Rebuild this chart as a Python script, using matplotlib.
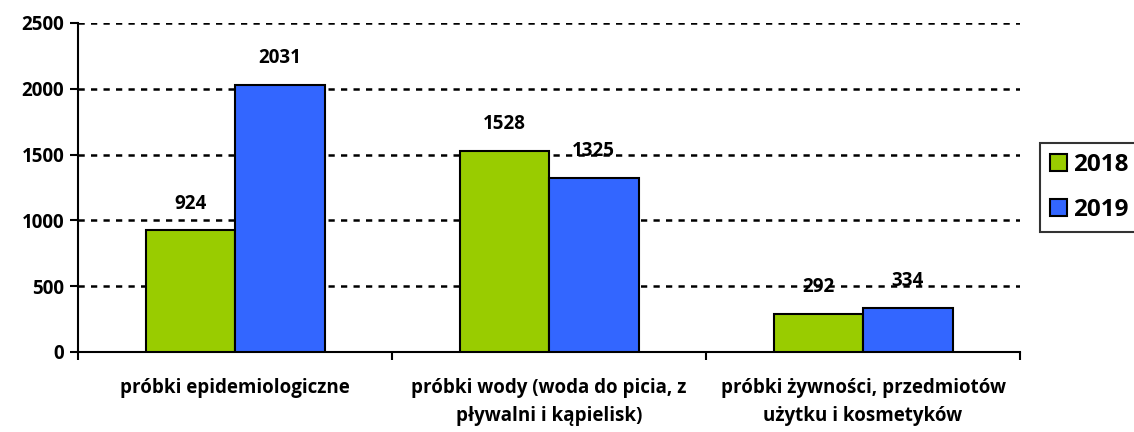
import numpy as np
import matplotlib.pyplot as plt
from matplotlib.ticker import FixedLocator

# data
categories = ['próbki epidemiologiczne',
              'próbki wody (woda do picia, z\npływalni i kąpielisk)',
              'próbki żywności, przedmiotów\nużytku i kosmetyków']
years = ['2018', '2019']
values_2018 = [924, 1528, 292]
values_2019 = [2031, 1325, 334]
yticks = [0, 500, 1000, 1500, 2000, 2500]

plt.rcParams['font.family'] = ['Open Sans', 'DejaVu Sans']
plt.rcParams['font.weight'] = 'bold'

fig = plt.figure(figsize=(11.34, 4.32), dpi=100)
ax = fig.add_axes([0.0688, 0.1852, 0.8307, 0.7616])

x = np.arange(len(categories))
w = 0.285
b1 = ax.bar(x - w/2, values_2018, w, color='#99CC00', edgecolor='black', linewidth=1.5, label=years[0], zorder=3)
b2 = ax.bar(x + w/2, values_2019, w, color='#3366FF', edgecolor='black', linewidth=1.5, label=years[1], zorder=3)

for bars in (b1, b2):
    for r in bars:
        ax.annotate(f'{int(r.get_height())}', (r.get_x() + r.get_width()/2, r.get_height()),
                    xytext=(0, 12), textcoords='offset points', ha='center', va='bottom',
                    fontsize=13.5, fontweight='bold', zorder=4)

ax.set_xlim(-0.5, 2.5)
ax.set_ylim(0, 2500)
ax.set_yticks(yticks)
ax.set_yticklabels([str(t) for t in yticks], fontsize=13.5, fontweight='bold')
ax.yaxis.grid(True, linestyle=(0, (2.5, 2.5)), color='black', linewidth=1.8, zorder=1)
ax.set_axisbelow(True)

ax.set_xticks(x)
ax.set_xticklabels(categories, fontsize=13.5, fontweight='bold', linespacing=1.5)
ax.tick_params(axis='x', which='major', length=0, pad=19)
ax.xaxis.set_minor_locator(FixedLocator([-0.5, 0.5, 1.5, 2.5]))
ax.tick_params(axis='x', which='minor', length=6, width=1.5, direction='out')
ax.tick_params(axis='y', length=6, width=1.5, direction='out', pad=4)

for s in ['top', 'right']:
    ax.spines[s].set_visible(False)
for s in ['left', 'bottom']:
    ax.spines[s].set_linewidth(1.5)

leg = ax.legend(loc='center left', bbox_to_anchor=(1.021, 0.5), frameon=True, fancybox=False,
                edgecolor='black', handlelength=0.7, handleheight=0.7, handletextpad=0.25,
                borderpad=0.4, labelspacing=0.9, borderaxespad=0,
                prop={'weight': 'bold', 'size': 17.5})
leg.get_frame().set_linewidth(1.5)

fig.savefig('out.png', dpi=100)
